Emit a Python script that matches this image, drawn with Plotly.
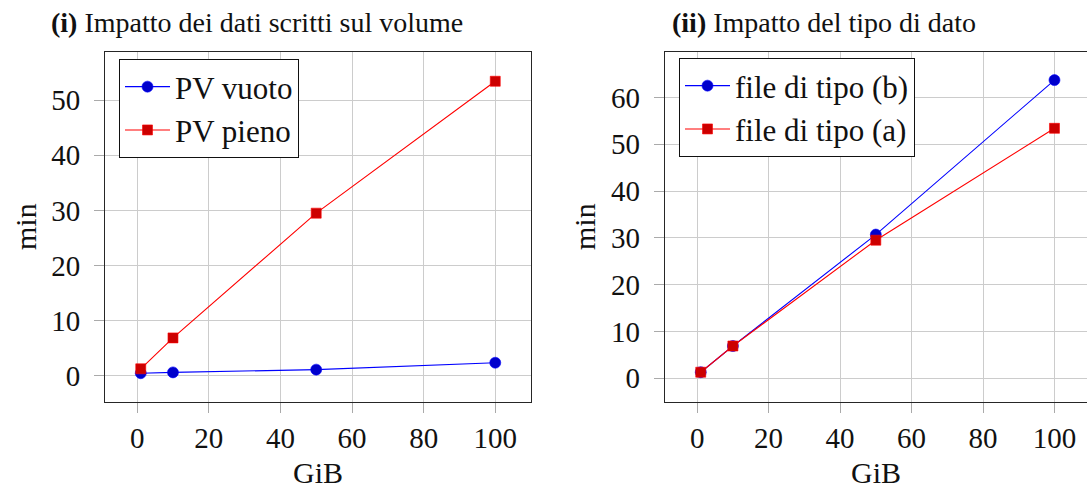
import plotly.graph_objects as go

# Dataset sizes (GiB) and elapsed times (minutes)
gib = [1, 10, 50, 100]

# Panel (i): impact of data already written on the volume
pv_vuoto = [0.5, 0.65, 1.15, 2.4]
pv_pieno = [1.3, 6.9, 29.5, 53.4]

# Panel (ii): impact of the data type
tipo_b = [1.3, 6.9, 30.7, 63.7]
tipo_a = [1.3, 6.9, 29.5, 53.4]

W, H = 1087, 489
FONT = "Liberation Serif"
TICK_SIZE = 29
LABEL_SIZE = 30
LEGEND_SIZE = 31
TITLE_SIZE = 28

BLUE_LINE, BLUE_FILL = "#0000ff", "#0000cc"
RED_LINE, RED_FILL = "#ff0000", "#cc0000"


def px_x(p):
    return p / W


def px_y(p):
    return 1 - p / H


fig = go.Figure()


def add_series(x, y, name, line_col, fill_col, symbol, xa, ya, legend):
    fig.add_trace(go.Scatter(
        x=x, y=y, name=name, mode="lines+markers",
        line=dict(color=line_col, width=1.1),
        marker=dict(symbol=symbol, size=11 if symbol == "circle" else 10,
                    color=fill_col, line=dict(color=line_col, width=0.6)),
        xaxis=xa, yaxis=ya, legend=legend,
    ))


add_series(gib, pv_vuoto, "PV vuoto", BLUE_LINE, BLUE_FILL, "circle", "x", "y", "legend")
add_series(gib, pv_pieno, "PV pieno", RED_LINE, RED_FILL, "square", "x", "y", "legend")
add_series(gib, tipo_b, "file di tipo (b)", BLUE_LINE, BLUE_FILL, "circle", "x2", "y2", "legend2")
add_series(gib, tipo_a, "file di tipo (a)", RED_LINE, RED_FILL, "square", "x2", "y2", "legend2")

ydom = [px_y(401.7), px_y(52)]

common_axis = dict(
    showgrid=True, gridcolor="#cccccc", gridwidth=1.2,
    zeroline=False, showline=True, linecolor="#262626", linewidth=1.3,
    ticks="outside", ticklen=10, tickwidth=1.2, tickcolor="#aaaaaa",
    tickfont=dict(family=FONT, size=TICK_SIZE, color="#111111"),
)

xticks = [0, 20, 40, 60, 80, 100]

legend_style = dict(xanchor="left", yanchor="top",
                    bgcolor="white", bordercolor="#111111", borderwidth=1,
                    font=dict(family=FONT, size=LEGEND_SIZE, color="#111111"),
                    tracegroupgap=0, itemwidth=45)

fig.update_layout(
    width=W, height=H,
    margin=dict(l=0, r=0, t=0, b=0),
    paper_bgcolor="white", plot_bgcolor="white",
    font=dict(family=FONT, color="#111111", size=TICK_SIZE),
    xaxis=dict(domain=[px_x(105.3), px_x(530.7)], range=[-8.9, 109.9],
               tickvals=xticks, mirror=True, anchor="y", **common_axis),
    yaxis=dict(domain=ydom, range=[-4.66, 58.7], tickvals=[0, 10, 20, 30, 40, 50],
               mirror=True, anchor="x", ticklabelstandoff=8, **common_axis),
    xaxis2=dict(domain=[px_x(665), 1.0], range=[-9.0, 109.1],
                tickvals=xticks, mirror=True, anchor="y2", **common_axis),
    yaxis2=dict(domain=ydom, range=[-5.0, 69.7], tickvals=[0, 10, 20, 30, 40, 50, 60],
                mirror=False, anchor="x2", ticklabelstandoff=8, **common_axis),
    legend=dict(x=px_x(119), y=px_y(59), **legend_style),
    legend2=dict(x=px_x(679), y=px_y(58), **legend_style),
    showlegend=True,
)

annotations = [
    dict(text="<b>(i)</b> Impatto dei dati scritti sul volume",
         x=px_x(257), y=px_y(22), font=dict(size=TITLE_SIZE)),
    dict(text="<b>(ii)</b> Impatto del tipo di dato",
         x=px_x(824), y=px_y(22), font=dict(size=TITLE_SIZE)),
    dict(text="GiB", x=px_x(318), y=px_y(472), font=dict(size=LABEL_SIZE)),
    dict(text="GiB", x=px_x(876), y=px_y(472), font=dict(size=LABEL_SIZE)),
    dict(text="min", x=px_x(25), y=px_y(227), textangle=-90, font=dict(size=LABEL_SIZE)),
    dict(text="min", x=px_x(584), y=px_y(227), textangle=-90, font=dict(size=LABEL_SIZE)),
]
for a in annotations:
    fig.add_annotation(xref="paper", yref="paper", showarrow=False,
                       xanchor="center", yanchor="middle", **a)

fig.write_html("out.html")
